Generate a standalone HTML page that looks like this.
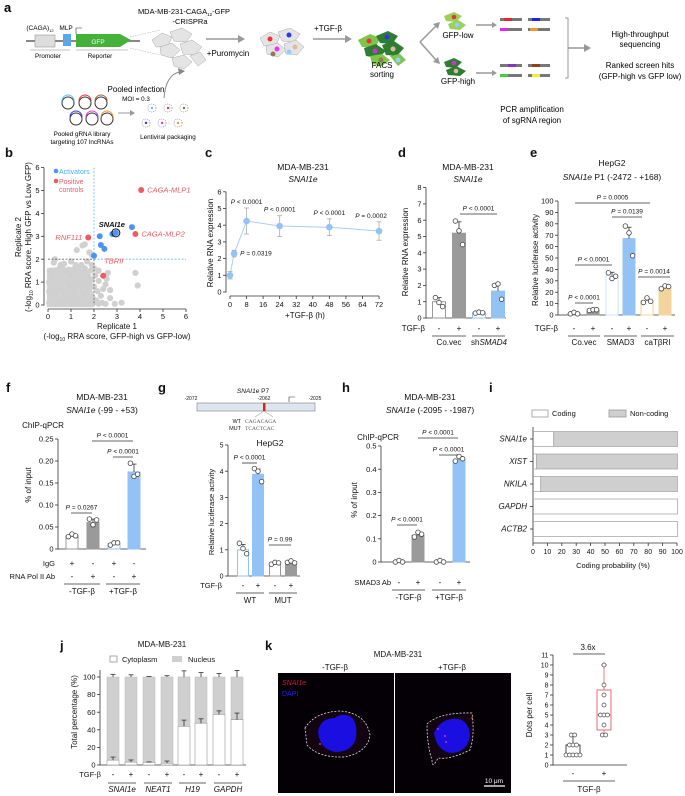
<!DOCTYPE html>
<html><head><meta charset="utf-8"><style>
html,body{margin:0;padding:0;background:#fff;}
svg{display:block;font-family:"Liberation Sans",sans-serif;}
</style></head><body>
<svg id="fig" width="685" height="796" viewBox="0 0 685 796" xmlns="http://www.w3.org/2000/svg">
<g id="panel-a" font-size="7" text-anchor="middle">
 <text x="4" y="12" font-size="13" font-weight="bold" text-anchor="start">a</text>
 <text x="184" y="14" font-size="7.5">MDA-MB-231-CAGA<tspan font-size="4.5" dy="2">12</tspan><tspan dy="-2">-GFP</tspan></text>
 <text x="190" y="24" font-size="7.5">-CRISPRa</text>
 <line x1="26" y1="41" x2="140" y2="41" stroke="#888" stroke-width="2"/>
 <rect x="35" y="35" width="20" height="12" fill="#ddd" stroke="#999" stroke-width="0.6"/>
 <rect x="63" y="34" width="8" height="12" fill="#5aa8e8"/>
 <polygon points="76,34 120,34 131,40 120,47 76,47" fill="#45b03a"/>
 <text x="98" y="44" fill="#fff" font-size="6.5">GFP</text>
 <text x="40" y="30" font-size="6.5">(CAGA)<tspan font-size="4" dy="2">12</tspan></text>
 <text x="66" y="30" font-size="6.5">MLP</text>
 <path d="M76,34 v-6 h6" stroke="#333" fill="none" stroke-width="0.6"/>
 <line x1="30" y1="50" x2="70" y2="50" stroke="#888" stroke-width="0.6"/>
 <line x1="76" y1="50" x2="128" y2="50" stroke="#888" stroke-width="0.6"/>
 <text x="48" y="58" font-size="6.3">Promoter</text>
 <text x="100" y="58" font-size="6.3">Reporter</text>
 <line x1="130" y1="37" x2="160" y2="30" stroke="#aaa" stroke-width="0.5" stroke-dasharray="1.5,1"/>
 <line x1="130" y1="48" x2="160" y2="55" stroke="#aaa" stroke-width="0.5" stroke-dasharray="1.5,1"/>
 <g fill="#e4e4e4" stroke="#aaa" stroke-width="0.5">
  <polygon points="152,40 162,33 172,37 168,46 156,47"/><polygon points="170,32 182,28 192,34 186,42 174,41"/>
  <polygon points="160,47 172,43 180,50 172,58 161,55"/><polygon points="180,44 192,40 202,47 195,55 183,54"/>
  <polygon points="172,58 184,55 192,62 184,69 174,66"/><polygon points="190,56 200,52 206,60 198,66"/>
 </g>
 <line x1="206" y1="39" x2="238" y2="39" stroke="#999" stroke-width="1.5"/><polygon points="238,35 245,39 238,43" fill="#999"/>
 <text x="228" y="56" font-size="8">+Puromycin</text>
 <g stroke="#aaa" stroke-width="0.5" fill="#e4e4e4">
  <polygon points="260,38 270,32 280,36 276,45 264,46"/><polygon points="278,32 290,28 300,34 294,42 282,41"/>
  <polygon points="266,46 278,43 286,50 278,57 267,54"/><polygon points="284,44 296,40 304,47 297,55 286,54"/>
  <circle cx="270" cy="39" r="2.5" fill="#e33" stroke="none"/><circle cx="289" cy="35" r="2.5" fill="#33e" stroke="none"/>
  <circle cx="277" cy="49" r="2.5" fill="#e3e" stroke="none"/><circle cx="295" cy="47" r="2.5" fill="#db9" stroke="none"/>
  <circle cx="289" cy="52" r="2.5" fill="#9cf" stroke="none"/><circle cx="273" cy="54" r="2.5" fill="#975" stroke="none"/>
 </g>
 <line x1="313" y1="39" x2="345" y2="39" stroke="#999" stroke-width="1.5"/><polygon points="345,35 352,39 345,43" fill="#999"/>
 <text x="328" y="31" font-size="8">+TGF-β</text>
 <g>
  <polygon points="358,40 370,34 380,38 376,47 362,47" fill="#7ec64a"/><polygon points="376,36 388,31 398,36 392,44 380,43" fill="#2e7d32"/>
  <polygon points="364,48 376,44 386,51 378,58 366,56" fill="#2e7d32"/><polygon points="382,45 394,41 404,48 397,56 386,55" fill="#2e7d32"/>
  <polygon points="370,56 382,54 390,60 382,66 372,64" fill="#7ec64a"/><polygon points="390,56 400,54 406,60 398,66" fill="#7ec64a"/>
  <circle cx="369" cy="41" r="2.5" fill="#e33"/><circle cx="387" cy="37" r="2.5" fill="#33e"/><circle cx="375" cy="51" r="2.5" fill="#c3c"/>
  <circle cx="393" cy="49" r="2.5" fill="#db9"/><circle cx="381" cy="60" r="2.5" fill="#975"/><circle cx="398" cy="60" r="2.5" fill="#9cf"/>
 </g>
 <text x="382" y="68" font-size="8">FACS</text>
 <text x="382" y="77" font-size="8">sorting</text>
 <path d="M420,42 L436,26 M420,42 L436,60" stroke="#999" stroke-width="1.5" fill="none"/>
 <polygon points="433,24 440,22 438,29" fill="#999"/><polygon points="433,62 440,64 438,57" fill="#999"/>
 <g>
  <polygon points="444,16 454,12 462,16 456,22 446,21" fill="#9bd05a"/><polygon points="448,24 458,20 466,25 460,30 450,29" fill="#9bd05a"/>
  <circle cx="454" cy="17" r="2.3" fill="#e33"/><circle cx="457" cy="25" r="2.3" fill="#9cf"/>
 </g>
 <text x="458" y="38" font-size="8">GFP-low</text>
 <g>
  <polygon points="444,62 454,58 462,62 456,68 446,67" fill="#2e7d32"/><polygon points="446,70 456,66 466,71 460,76 448,75" fill="#2e7d32"/>
  <circle cx="454" cy="63" r="2.3" fill="#c3c"/><circle cx="456" cy="71" r="2.3" fill="#db9"/>
 </g>
 <text x="458" y="84" font-size="8">GFP-high</text>
 <line x1="476" y1="25" x2="492" y2="25" stroke="#999" stroke-width="1.5"/><polygon points="492,22 497,25 492,28" fill="#999"/>
 <line x1="476" y1="73" x2="492" y2="73" stroke="#999" stroke-width="1.5"/><polygon points="492,70 497,73 492,76" fill="#999"/>
 <g>
  <rect x="500" y="18" width="22" height="3" fill="#777"/><rect x="504" y="18" width="8" height="3" fill="#e22"/>
  <rect x="528" y="18" width="22" height="3" fill="#777"/><rect x="532" y="18" width="8" height="3" fill="#22e"/>
  <rect x="500" y="28" width="22" height="3" fill="#777"/><rect x="500" y="28" width="8" height="3" fill="#e2e"/>
  <rect x="528" y="28" width="22" height="3" fill="#777"/><rect x="530" y="28" width="8" height="3" fill="#e93"/>
  <rect x="500" y="64" width="22" height="3" fill="#777"/><rect x="508" y="64" width="8" height="3" fill="#83b"/>
  <rect x="528" y="64" width="22" height="3" fill="#777"/><rect x="532" y="64" width="8" height="3" fill="#841"/>
  <rect x="500" y="74" width="22" height="3" fill="#777"/><rect x="500" y="74" width="8" height="3" fill="#4c4"/>
  <rect x="528" y="74" width="22" height="3" fill="#777"/><rect x="532" y="74" width="8" height="3" fill="#ee3"/>
 </g>
 <text x="532" y="112" font-size="8">PCR amplification</text>
 <text x="532" y="123" font-size="8">of sgRNA region</text>
 <path d="M565,18 h3 v60 h-3" stroke="#999" fill="none" stroke-width="1"/>
 <line x1="568" y1="48" x2="584" y2="48" stroke="#999" stroke-width="1.5"/><polygon points="584,44 591,48 584,52" fill="#999"/>
 <text x="640" y="37" font-size="8">High-throughput</text>
 <text x="640" y="47" font-size="8">sequencing</text>
 <text x="640" y="68" font-size="8">Ranked screen hits</text>
 <text x="640" y="79" font-size="8">(GFP-high vs GFP low)</text>
 <g fill="none" stroke-width="1">
  <circle cx="68" cy="103" r="6" stroke="#333"/><path d="M62,101 a6,6 0 0 1 12,0" stroke="#5bc0f0"/>
  <circle cx="85" cy="103" r="6" stroke="#333"/><path d="M79,101 a6,6 0 0 1 12,0" stroke="#e33"/>
  <circle cx="101" cy="103" r="6" stroke="#333"/><path d="M95,101 a6,6 0 0 1 12,0" stroke="#964"/>
  <circle cx="76" cy="119" r="6" stroke="#333"/><path d="M70,117 a6,6 0 0 1 12,0" stroke="#33e"/>
  <circle cx="92" cy="119" r="6" stroke="#333"/><path d="M86,117 a6,6 0 0 1 12,0" stroke="#e3e"/>
  <circle cx="107" cy="119" r="6" stroke="#333"/><path d="M101,117 a6,6 0 0 1 12,0" stroke="#e93"/>
 </g>
 <text x="82" y="136" font-size="6.3">Pooled gRNA library</text>
 <text x="82" y="144" font-size="6.3">targeting 107 lncRNAs</text>
 <line x1="118" y1="113" x2="130" y2="113" stroke="#999" stroke-width="1"/><polygon points="130,110 135,113 130,116" fill="#999"/>
 <text x="136" y="92" font-size="8">Pooled infection</text>
 <text x="136" y="101" font-size="6.3">MOI = 0.3</text>
 <path d="M164,98 Q166,74 180,72" stroke="#888" fill="none" stroke-width="1"/><polygon points="178,68 185,71 179,75" fill="#888"/>
 <g fill="#fff" stroke="#777" stroke-width="0.6" stroke-dasharray="1,1">
  <circle cx="152" cy="108" r="4"/><circle cx="168" cy="108" r="4"/><circle cx="184" cy="108" r="4"/>
  <circle cx="146" cy="123" r="4"/><circle cx="162" cy="123" r="4"/><circle cx="178" cy="123" r="4"/>
 </g>
 <circle cx="152" cy="108" r="1.2" fill="#5bc0f0"/><circle cx="168" cy="108" r="1.2" fill="#e33"/><circle cx="184" cy="108" r="1.2" fill="#964"/>
 <circle cx="146" cy="123" r="1.2" fill="#33e"/><circle cx="162" cy="123" r="1.2" fill="#e3e"/><circle cx="178" cy="123" r="1.2" fill="#e93"/>
 <text x="168" y="139" font-size="6.3">Lentiviral packaging</text>
</g>
<g id="panel-k-img">
 <rect x="278" y="673" width="116" height="120" fill="#050005"/>
 <rect x="395" y="673" width="116" height="120" fill="#050005"/>
 <path d="M305,728 Q315,712 340,711 Q366,713 370,735 Q368,752 345,757 Q318,758 307,745 Z" fill="#120410" stroke="#ddd" stroke-width="0.8" stroke-dasharray="2,1.5"/>
 <path d="M318,732 Q320,718 335,718 Q340,713 350,716 Q358,722 356,738 Q352,752 336,752 Q320,750 318,732 Z" fill="#1a0fe0"/>
 <path d="M427,724 Q440,712 472,713 Q475,735 470,750 Q450,760 438,758 Q432,770 432,760 Q427,745 427,724 Z" fill="#120410" stroke="#ddd" stroke-width="0.8" stroke-dasharray="2,1.5"/>
 <path d="M434,733 Q440,720 452,719 Q468,717 470,735 Q468,752 452,753 Q437,752 434,733 Z" fill="#1a0fe0"/>
 <circle cx="320" cy="744" r="0.9" fill="#f3c"/><circle cx="438" cy="729" r="0.9" fill="#f3c"/><circle cx="445" cy="736" r="0.9" fill="#f3c"/><circle cx="446" cy="742" r="0.9" fill="#f3c"/><circle cx="472" cy="718" r="0.9" fill="#f33"/>
 <text x="282" y="685" font-size="7" fill="#e0103a" font-style="italic">SNAI1e</text>
 <text x="282" y="696" font-size="7" fill="#2020f0">DAPI</text>
 <line x1="484" y1="786" x2="505" y2="786" stroke="#fff" stroke-width="1.2"/>
 <text x="494" y="783" font-size="6.5" fill="#fff" text-anchor="middle">10 μm</text>
</g>
<g id="charts"></g>
</svg>
<script>
// ---------- data ----------
const bGray = [[0.05,0.1],[0.1,0.4],[0.15,0.8],[0.2,1.2],[0.1,1.5],[0.3,0.05],[0.35,0.5],[0.4,0.9],[0.45,1.3],[0.5,1.6],[0.55,0.2],[0.6,0.7],[0.65,1.1],[0.7,0.3],[0.75,1.45],[0.8,0.6],[0.85,1.0],[0.9,0.15],[0.95,1.3],[1.0,0.45],[1.05,0.85],[1.1,1.55],[1.15,0.1],[1.2,0.65],[1.25,1.15],[1.3,0.35],[1.35,0.95],[1.4,1.4],[1.45,0.05],[1.5,0.55],[1.55,1.0],[1.6,1.6],[1.65,0.25],[1.7,0.8],[1.75,1.25],[1.8,0.05],[1.85,0.5],[1.9,1.1],[1.95,0.3],[2.0,0.8],[2.05,1.3],[2.1,0.2],[2.15,0.6],[2.2,1.05],[2.3,0.4],[2.35,0.1],[2.5,0.9],[2.6,1.4],[2.7,0.3],[2.5,0.05],[2.9,0.05],[3.2,0.1],[3.8,1.4],[3.9,0.85],[2.55,1.15],[1.5,2.6],[1.6,2.65],[1.25,2.4],[1.8,2.3],[1.9,2.2],[0.7,1.8],[0.3,2.0],[0.25,1.85],[1.0,1.9],[1.7,1.9],[0.05,0.6],[0.2,0.3],[0.3,1.0],[0.45,0.65],[0.6,0.05],[0.5,1.05],[0.8,0.25],[0.9,1.55],[1.0,0.05],[1.1,1.1],[1.2,0.25],[1.3,1.6],[1.4,0.8],[0.15,1.35],[0.4,1.5],[0.7,0.55],[0.95,0.75],[1.15,0.5],[1.35,0.15],[1.55,0.35],[1.75,0.6],[1.85,1.5],[0.05,1.0],[0.6,1.35],[0.85,0.4],[1.05,1.4],[1.45,1.2],[1.65,1.4],[1.95,0.05],[2.2,0.05],[0.35,0.25],[0.55,0.9],[0.75,0.05],[1.25,0.85],[1.6,0.05],[0.25,0.6],[0.65,1.55],[1.05,0.3],[1.5,0.85],[1.8,0.95],[0.1,0.05],[0.4,0.15],[0.9,0.9],[1.3,1.3],[1.7,0.15],[1.2,1.75],[1.45,1.75],[0.55,1.75],[2.4,0.7],[2.7,0.65],[2.0,1.6],[2.2,1.5],[1.9,1.75]];
const bBlueX = [2.25,2.3,2.45,2.0,2.8,2.95,3.65];
const bBlueY = [3.0,2.62,2.45,2.15,3.1,3.15,3.4];
const bRedX = [4.05,3.8,1.75,2.4];
const bRedY = [5.02,3.1,2.95,1.28];
const bRedLabels = ['CAGA-MLP1','CAGA-MLP2','RNF111','TBRII'];

const cTimes = [0,2,8,24,48,72];
const cMeans = [1.0,2.3,4.25,3.95,3.88,3.65];
const cErrs = [0.22,0.2,0.78,0.62,0.5,0.55];
const cPLabels = ['','P = 0.0319','P < 0.0001','P < 0.0001','P < 0.0001','P = 0.0002'];

const dVals = [1.0,5.2,0.32,1.65];
const dErrs = [0.25,0.7,0.05,0.5];
const dDots = [[1.25,0.95,0.7],[5.95,5.35,4.5],[0.3,0.36,0.32],[2.0,2.0,1.15]];

const eVals = [1.2,4.2,34.5,67,12.5,24.5];
const eErrs = [0.5,0.6,3,10,2,1.5];
const eDots = [[1,1,1],[4,4.6,4.6],[37,32,34],[78,72,52],[11,15,12],[23,25.5,25]];

const fVals = [0.03,0.06,0.012,0.175];
const fErrs = [0.003,0.008,0.003,0.018];
const fDots = [[0.028,0.034,0.03],[0.068,0.055,0.066],[0.009,0.014,0.014],[0.195,0.165,0.17]];

const gVals = [1.0,3.88,0.48,0.52];
const gErrs = [0.2,0.2,0.05,0.03];
const gDots = [[1.25,1.05,0.85],[4.1,4.0,3.6],[0.45,0.52,0.5],[0.52,0.52,0.5]];

const hVals = [0.0,0.115,0.0,0.44];
const hErrs = [0,0.01,0,0.01];
const hDots = [[0,0,0],[0.108,0.128,0.12],[0,0,0],[0.435,0.455,0.445]];

const iGenes = ['SNAI1e','XIST','NKILA','GAPDH','ACTB2'];
const iCoding = [14,2,5,100,100];

const jGenes = ['SNAI1e','NEAT1','H19','GAPDH'];
const jCyto = [5.5,3.2,3.0,2.0,44,47.5,57.5,51.5];
const jCytoErr = [3.5,2.5,0.5,2.5,7,5,4,7.5];
const jTotErr = [3,2.5,0.6,1.5,7,5,4,7.5];

const kMinus = [1,1,1,1,1,2,2,2,3,3];
const kPlus = [3,3,4,5,5,5,6,7,8,10];
const kBoxMinus = [1,1,1.1,2,3];
const kBoxPlus = [3,3.5,5,7.5,10];

// ---------- helpers ----------
const NS='http://www.w3.org/2000/svg';
const root=document.getElementById('charts');
function el(tag,attrs,name){
  const e=document.createElementNS(NS,tag);
  for(const k in attrs)e.setAttribute(k,attrs[k]);
  
  
  root.appendChild(e);return e;
}
function tx(x,y,s,name,o){
  const t=el('text',Object.assign({x:x,y:y,'font-size':8,'text-anchor':'middle',fill:'#111'},o||{}),name);
  t.innerHTML=s;return t;
}
function ln(x1,y1,x2,y2,name,o){return el('line',Object.assign({x1,y1,x2,y2,stroke:'#333','stroke-width':0.8},o||{}),name);}
function yAxis(x,ticks,sc,labels,name,fs){
  ln(x,sc(ticks[0])+0.5,x,sc(ticks[ticks.length-1]),name+'-line');
  ticks.forEach((t,i)=>{ln(x-3,sc(t),x,sc(t),name+'-tick');
    tx(x-4.5,sc(t)+2.6,labels[i],name+'-tick-label',{'text-anchor':'end','font-size':fs||7.5});});
}
function letter(x,y,s){tx(x,y,s,'panel-'+s+'-label',{'font-size':13,'font-weight':'bold','text-anchor':'start'});}
function ylab(x,y,s,name,fs){tx(x,y,s,name,{transform:'rotate(-90 '+x+' '+y+')','font-size':fs||8});}
function pline(x1,x2,y,label,name){ln(x1,y,x2,y,name+'-line');tx((x1+x2)/2,y-3.5,label,name+'-label',{'font-size':6.5});}
function barSet(prefix,xs,vals,errs,dots,sc,w,fills,strokes){
  xs.forEach((cx,i)=>{
    const top=sc(vals[i]),base=sc(0);
    el('rect',{x:cx-w/2,y:top,width:w,height:Math.max(base-top,0.3),fill:fills[i],stroke:strokes[i],'stroke-width':1},prefix+'-bar');
    if(errs[i]>0){const ey=sc(vals[i]+errs[i]);
      ln(cx,top,cx,ey,prefix+'-error-bar');ln(cx-2.5,ey,cx+2.5,ey,prefix+'-error-cap');}
    dots[i].forEach((v,j)=>{
      el('circle',{cx:cx+(j-1)*3.6,cy:sc(v)-(j===1&&dots[i][0]===v?1.5:0),r:2.3,fill:'#fff',stroke:'#444','stroke-width':0.8},prefix+'-dot');
    });
  });
}
const B='#93c3f5',G='#9a9a9a';

// ---------- panel b ----------
letter(5,157,'b');
const bx=v=>48+v*23, by=v=>305-v*22.9;
el('path',{d:'M'+bx(-0.05)+','+by(-0.1)+' L'+bx(1.95)+','+by(-0.1)+' L'+bx(1.9)+','+by(1.2)+' L'+bx(1.5)+','+by(1.6)+' L'+bx(0.3)+','+by(1.65)+' L'+bx(-0.05)+','+by(1.6)+' Z',fill:'#d3d3d3'},'b-dense-cloud');
bGray.forEach(p=>{el('circle',{cx:bx(p[0]),cy:by(p[1]),r:3.1,fill:'#d0d0d0'},'b-background-point');});
ln(bx(2),by(6),bx(2),by(2),'b-x-threshold-blue',{stroke:'#6bbbe8','stroke-dasharray':'2,1.5'});
ln(bx(2),by(2),bx(2),by(0),'b-x-threshold-dark',{stroke:'#666','stroke-dasharray':'2,1.5'});
ln(bx(0),by(2),bx(2),by(2),'b-y-threshold-dark',{stroke:'#666','stroke-dasharray':'2,1.5'});
ln(bx(2),by(2),bx(6),by(2),'b-y-threshold-blue',{stroke:'#6bbbe8','stroke-dasharray':'2,1.5'});
bBlueX.forEach((x,i)=>{el('circle',{cx:bx(x),cy:by(bBlueY[i]),r:3,fill:'#4d94f0'},'b-activator-point');});
el('circle',{cx:bx(bBlueX[5]),cy:by(bBlueY[5]),r:4,fill:'none',stroke:'#111','stroke-width':1},'b-snai1e-highlight');
tx(bx(bBlueX[5])-4,by(bBlueY[5])-6,'<tspan font-style="italic" font-weight="bold">SNAI1e</tspan>','b-snai1e-label',{'font-size':7.5});
bRedX.forEach((x,i)=>{el('circle',{cx:bx(x),cy:by(bRedY[i]),r:3,fill:'#ef5a63'},'b-control-point');});
tx(bx(bRedX[0])+6,by(bRedY[0])+2.5,'<tspan font-style="italic">'+bRedLabels[0]+'</tspan>','b-control-label',{'text-anchor':'start',fill:'#ef5a63','font-size':7.5});
tx(bx(bRedX[1])+6,by(bRedY[1])+2.5,'<tspan font-style="italic">'+bRedLabels[1]+'</tspan>','b-control-label',{'text-anchor':'start',fill:'#ef5a63','font-size':7.5});
tx(bx(bRedX[2])-6,by(bRedY[2])+2.5,'<tspan font-style="italic">'+bRedLabels[2]+'</tspan>','b-control-label',{'text-anchor':'end',fill:'#ef5a63','font-size':7.5});
tx(bx(bRedX[3])+1,by(bRedY[3])-12,'<tspan font-style="italic">'+bRedLabels[3]+'</tspan>','b-control-label',{'text-anchor':'start',fill:'#ef5a63','font-size':7.5});
el('circle',{cx:56,cy:171,r:2.3,fill:'#4d94f0'},'b-legend-activators-marker');
tx(59,174,'Activators','b-legend-activators',{'text-anchor':'start',fill:'#4db0e8','font-size':7});
el('circle',{cx:56,cy:181,r:2.3,fill:'#ef5a63'},'b-legend-controls-marker');
tx(59,184,'Positive','b-legend-controls',{'text-anchor':'start',fill:'#ef5a63','font-size':7});
tx(59,192,'controls','b-legend-controls-2',{'text-anchor':'start',fill:'#ef5a63','font-size':7});
yAxis(44,[0,1,2,3,4,5,6],by,['0','1','2','3','4','5','6'],'b-y-axis');
ln(bx(0),309,bx(6),309,'b-x-axis-line');
[0,1,2,3,4,5,6].forEach(t=>{ln(bx(t),309,bx(t),312,'b-x-tick');tx(bx(t),319,String(t),'b-x-tick-label',{'font-size':7.5});});
tx(117,329,'Replicate 1','b-x-axis-title');
tx(117,339,'(-log<tspan font-size="5" dy="2">10</tspan><tspan dy="-2"> RRA score, GFP-high vs GFP-low)</tspan>','b-x-axis-subtitle');
ylab(21,237,'Replicate 2','b-y-axis-title');
ylab(31,237,'(-log<tspan font-size="5" dy="2">10</tspan><tspan dy="-2"> RRA score, High GFP vs Low GFP)</tspan>','b-y-axis-subtitle');

// ---------- panel c ----------
letter(205,157,'c');
const cx_=h=>230+h*2.07, cy_=v=>292-v*16.7;
tx(303,170,'MDA-MB-231','c-title',{'font-size':8.5});
tx(303,182,'<tspan font-style="italic">SNAI1e</tspan>','c-subtitle',{'font-size':8.5});
yAxis(226,[0,1,2,3,4,5,6],cy_,['0','1','2','3','4','5','6'],'c-y-axis');
ln(cx_(0),296,cx_(72),296,'c-x-axis-line');
[0,8,16,24,32,40,48,56,64,72].forEach(t=>{ln(cx_(t),296,cx_(t),299,'c-x-tick');tx(cx_(t),307,String(t),'c-x-tick-label',{'font-size':7.5});});
tx(305,318,'+TGF-β (h)','c-x-axis-title');
ylab(213,243,'Relative RNA expression','c-y-axis-title');
el('polyline',{points:cTimes.map((t,i)=>cx_(t)+','+cy_(cMeans[i])).join(' '),fill:'none',stroke:'#a9cdf7','stroke-width':1},'c-line');
cTimes.forEach((t,i)=>{
  ln(cx_(t),cy_(cMeans[i]-cErrs[i]),cx_(t),cy_(cMeans[i]+cErrs[i]),'c-error-bar',{stroke:'#aaa'});
  ln(cx_(t)-2.5,cy_(cMeans[i]+cErrs[i]),cx_(t)+2.5,cy_(cMeans[i]+cErrs[i]),'c-error-cap',{stroke:'#aaa'});
  ln(cx_(t)-2.5,cy_(cMeans[i]-cErrs[i]),cx_(t)+2.5,cy_(cMeans[i]-cErrs[i]),'c-error-cap',{stroke:'#aaa'});
  el('circle',{cx:cx_(t),cy:cy_(cMeans[i]),r:3.3,fill:'#93c3f5'},'c-point');
});
tx(cx_(2)+6,cy_(cMeans[1])+2,'<tspan font-style="italic">P</tspan>'+cPLabels[1].slice(1),'c-p-value',{'text-anchor':'start','font-size':6.5});
tx(cx_(8),cy_(cMeans[2]+cErrs[2])-4,'<tspan font-style="italic">P</tspan>'+cPLabels[2].slice(1),'c-p-value',{'font-size':6.5});
tx(cx_(24),cy_(cMeans[3]+cErrs[3])-4,'<tspan font-style="italic">P</tspan>'+cPLabels[3].slice(1),'c-p-value',{'font-size':6.5});
tx(cx_(48),cy_(cMeans[4]+cErrs[4])-4,'<tspan font-style="italic">P</tspan>'+cPLabels[4].slice(1),'c-p-value',{'font-size':6.5});
tx(cx_(72)-8,cy_(cMeans[5]+cErrs[5])-4,'<tspan font-style="italic">P</tspan>'+cPLabels[5].slice(1),'c-p-value',{'font-size':6.5});

// ---------- panel d ----------
letter(398,157,'d');
const dy_=v=>318-v*16.3;
tx(468,170,'MDA-MB-231','d-title',{'font-size':8.5});
tx(468,182,'<tspan font-style="italic">SNAI1e</tspan>','d-subtitle',{'font-size':8.5});
yAxis(426,[0,1,2,3,4,5,6,7,8],dy_,['0','1','2','3','4','5','6','7','8'],'d-y-axis');
ln(426,318,506,318,'d-x-axis-line');
const dXs=[439,459,479,498];
barSet('d',dXs,dVals,dErrs,dDots,dy_,13,['#fff',G,'#fff',B],['#999',G,B,B]);
pline(460,497,214,'<tspan font-style="italic">P</tspan> &lt; 0.0001','d-p');
ylab(408,252,'Relative RNA expression','d-y-axis-title');
tx(425,331,'TGF-β','d-tgfb-label',{'text-anchor':'end'});
['-','+','-','+'].forEach((s,i)=>tx(dXs[i],331,s,'d-tgfb-sign'));
ln(432,336,466,336,'d-group-line',{stroke:'#999','stroke-width':1.5});ln(472,336,505,336,'d-group-line',{stroke:'#999','stroke-width':1.5});
tx(449,345,'Co.vec','d-group-label');tx(489,345,'sh<tspan font-style="italic">SMAD4</tspan>','d-group-label');

// ---------- panel e ----------
letter(530,157,'e');
const ey_=v=>315-v*1.14;
tx(612,166,'HepG2','e-title',{'font-size':8.5});
tx(612,180,'<tspan font-style="italic">SNAI1e</tspan> P1 (-2472 - +168)','e-subtitle',{'font-size':8.5});
yAxis(558,[0,10,20,30,40,50,60,70,80,90,100],ey_,['0','10','20','30','40','50','60','70','80','90','100'],'e-y-axis');
ln(558,315,675,315,'e-x-axis-line');
const eXs=[574,593,612,629,647,665];
barSet('e',eXs,eVals,eErrs,eDots,ey_,12,['#fff',G,'#fff',B,'#fff','#f3d49c'],['#999',G,'#cfe3fb',B,'#f3d49c','#f3d49c']);
pline(575,650,203,'<tspan font-style="italic">P</tspan> = 0.0005','e-p1');
pline(612,642,217,'<tspan font-style="italic">P</tspan> = 0.0139','e-p2');
pline(575,612,265,'<tspan font-style="italic">P</tspan> &lt; 0.0001','e-p3');
pline(575,593,303,'<tspan font-style="italic">P</tspan> &lt; 0.0001','e-p4');
pline(638,670,277,'<tspan font-style="italic">P</tspan> = 0.0014','e-p5');
ylab(538,260,'Relative luciferase activity','e-y-axis-title');
tx(558,331,'TGF-β','e-tgfb-label',{'text-anchor':'end'});
['-','+','-','+','-','+'].forEach((s,i)=>tx(eXs[i],331,s,'e-tgfb-sign'));
[[568,600,'Co.vec'],[604,637,'SMAD3'],[641,674,'caTβRI']].forEach(g=>{ln(g[0],336,g[1],336,'e-group-line',{stroke:'#999','stroke-width':1.5});tx((g[0]+g[1])/2,345,g[2],'e-group-label');});

// ---------- panel f ----------
letter(6,392,'f');
const fy_=v=>549-v*440;
tx(102,400,'MDA-MB-231','f-title',{'font-size':8.5});
tx(102,413,'<tspan font-style="italic">SNAI1e</tspan> (-99 - +53)','f-subtitle',{'font-size':8.5});
tx(43,428,'ChIP-qPCR','f-assay-label');
yAxis(58,[0,0.05,0.1,0.15,0.2,0.25],fy_,['0','0.05','0.10','0.15','0.20','0.25'],'f-y-axis');
ln(58,549,146,549,'f-x-axis-line');
const fXs=[72,93,114,134];
barSet('f',fXs,fVals,fErrs,fDots,fy_,12,['#fff',G,'#fff',B],['#999',G,B,B]);
pline(92,133,441,'<tspan font-style="italic">P</tspan> &lt; 0.0001','f-p1');
pline(113,133,457,'<tspan font-style="italic">P</tspan> &lt; 0.0001','f-p2');
pline(71,92,513,'<tspan font-style="italic">P</tspan> = 0.0267','f-p3');
ylab(31,485,'% of input','f-y-axis-title');
tx(55,566,'IgG','f-igg-label',{'text-anchor':'end','font-size':7.5});
tx(55,579,'RNA Pol II Ab','f-rnapol-label',{'text-anchor':'end','font-size':7.5});
['+','-','+','-'].forEach((s,i)=>tx(fXs[i],566,s,'f-igg-sign'));
['-','+','-','+'].forEach((s,i)=>tx(fXs[i],579,s,'f-rnapol-sign'));
[[64,100,'-TGF-β'],[106,140,'+TGF-β']].forEach(g=>{ln(g[0],584,g[1],584,'f-group-line',{stroke:'#999','stroke-width':1.5});tx((g[0]+g[1])/2,594,g[2],'f-group-label');});

// ---------- panel g ----------
letter(158,392,'g');
tx(253,393,'<tspan font-style="italic">SNAI1e</tspan> P7','g-gene-title',{'font-size':6.5});
el('rect',{x:197,y:403,width:118,height:8,fill:'#dde6ef',stroke:'#666','stroke-width':0.5},'g-promoter-bar');
el('rect',{x:263,y:403,width:2.5,height:8,fill:'#e02020'},'g-smad-site');
tx(191,400,'-2072','g-coord-start',{'font-size':5});tx(264,400,'-2062','g-coord-site',{'font-size':5});tx(315,400,'-2025','g-coord-end',{'font-size':5});
el('path',{d:'M289,402 v-5 h6',stroke:'#333',fill:'none','stroke-width':0.6},'g-tss-arrow');
el('path',{d:'M255,417 L264,411 L273,417',stroke:'#888',fill:'none','stroke-width':0.5},'g-zoom-lines');
tx(241,423,'WT','g-wt-seq-label',{'text-anchor':'end','font-size':5.5});
tx(241,430,'MUT','g-mut-seq-label',{'text-anchor':'end','font-size':5.5});
tx(245,423,'CAGACAGA','g-wt-sequence',{'text-anchor':'start','font-size':5.5,'font-family':'Liberation Serif, serif',fill:'#555'});
tx(245,430,'TCACTCAC','g-mut-sequence',{'text-anchor':'start','font-size':5.5,'font-family':'Liberation Serif, serif',fill:'#555'});
tx(270,446,'HepG2','g-title',{'font-size':8.5});
const gy_=v=>576-v*26.2;
yAxis(228,[0,1,2,3,4,5],gy_,['0','1','2','3','4','5'],'g-y-axis',7);
ln(228,576,300,576,'g-x-axis-line');
const gXs=[243,258,275,291];
barSet('g',gXs,gVals,gErrs,gDots,gy_,11,['#fff',B,'#fff',G],[B,B,'#999',G]);
pline(242,257,463,'<tspan font-style="italic">P</tspan> &lt; 0.0001','g-p1');
pline(269,291,545,'<tspan font-style="italic">P</tspan> = 0.99','g-p2');
ylab(214,512,'Relative luciferase activity','g-y-axis-title',7.5);
tx(222,588,'TGF-β','g-tgfb-label',{'text-anchor':'end','font-size':7.5});
['-','+','-','+'].forEach((s,i)=>tx(gXs[i],588,s,'g-tgfb-sign'));
[[236,264,'WT'],[269,297,'MUT']].forEach(g=>{ln(g[0],593,g[1],593,'g-group-line',{stroke:'#999','stroke-width':1.5});tx((g[0]+g[1])/2,603,g[2],'g-group-label');});

// ---------- panel h ----------
letter(342,392,'h');
tx(430,400,'MDA-MB-231','h-title',{'font-size':8.5});
tx(430,413,'<tspan font-style="italic">SNAI1e</tspan> (-2095 - -1987)','h-subtitle',{'font-size':8.5});
tx(378,440,'ChIP-qPCR','h-assay-label');
const hy_=v=>562-v*232;
yAxis(381,[0,0.1,0.2,0.3,0.4,0.5],hy_,['0','0.1','0.2','0.3','0.4','0.5'],'h-y-axis');
ln(381,562,470,562,'h-x-axis-line');
const hXs=[399,418,440,459];
barSet('h',hXs,hVals,hErrs,hDots,hy_,12,['#fff',G,'#fff',B],['#999',G,B,B]);
pline(418,458,438,'<tspan font-style="italic">P</tspan> &lt; 0.0001','h-p1');
pline(439,458,455,'<tspan font-style="italic">P</tspan> &lt; 0.0001','h-p2');
pline(397,417,525,'<tspan font-style="italic">P</tspan> &lt; 0.0001','h-p3');
ylab(357,500,'% of input','h-y-axis-title');
tx(391,585,'SMAD3 Ab','h-smad3-label',{'text-anchor':'end','font-size':7.5});
['-','+','-','+'].forEach((s,i)=>tx(hXs[i],585,s,'h-smad3-sign'));
[[392,425,'-TGF-β'],[432,466,'+TGF-β']].forEach(g=>{ln(g[0],590,g[1],590,'h-group-line',{stroke:'#999','stroke-width':1.5});tx((g[0]+g[1])/2,600,g[2],'h-group-label');});

// ---------- panel i ----------
letter(489,392,'i');
const ix=v=>533+v*1.44;
const iRows=iGenes.map((g,k)=>439+k*22.5);
el('rect',{x:532,y:410,width:16,height:7,fill:'#fff',stroke:'#999','stroke-width':0.8},'i-legend-coding-swatch');
tx(552,416,'Coding','i-legend-coding',{'text-anchor':'start','font-size':7.5});
el('rect',{x:609,y:410,width:17,height:7,fill:'#cfcfcf',stroke:'#999','stroke-width':0.8},'i-legend-noncoding-swatch');
tx(630,416,'Non-coding','i-legend-noncoding',{'text-anchor':'start','font-size':7.5});
ln(533,427,533,543,'i-y-axis-line');
iGenes.forEach((g,k)=>{
  const y=iRows[k];
  el('rect',{x:ix(0)+0.5,y:y-7.5,width:ix(iCoding[k])-ix(0),height:15,fill:'#fff',stroke:'#aaa','stroke-width':0.8},'i-coding-bar');
  if(iCoding[k]<100) el('rect',{x:ix(iCoding[k])+0.5,y:y-7.5,width:ix(100)-ix(iCoding[k]),height:15,fill:'#cfcfcf',stroke:'#aaa','stroke-width':0.8},'i-noncoding-bar');
  ln(530,y,533,y,'i-y-tick');
  tx(527,y+2.7,'<tspan font-style="italic">'+g+'</tspan>','i-gene-label',{'text-anchor':'end'});
});
ln(533,543,ix(100),543,'i-x-axis-line');
[0,10,20,30,40,50,60,70,80,90,100].forEach(t=>{ln(ix(t),543,ix(t),546,'i-x-tick');tx(ix(t),554,String(t),'i-x-tick-label',{'font-size':7});});
tx(613,568,'Coding probability  (%)','i-x-axis-title',{'font-size':7.5});

// ---------- panel j ----------
letter(60,650,'j');
tx(162,647,'MDA-MB-231','j-title',{'font-size':8});
el('rect',{x:110,y:656,width:7,height:6,fill:'#fff',stroke:'#888','stroke-width':0.7},'j-legend-cytoplasm-swatch');
tx(122,662,'Cytoplasm','j-legend-cytoplasm',{'text-anchor':'start','font-size':7.5});
el('rect',{x:172,y:656,width:10,height:6,fill:'#cfcfcf'},'j-legend-nucleus-swatch');
tx(188,662,'Nucleus','j-legend-nucleus',{'text-anchor':'start','font-size':7.5});
const jy_=v=>765-v*0.88;
yAxis(100,[0,20,40,60,80,100],jy_,['0','20','40','60','80','100'],'j-y-axis');
ln(100,jy_(100),100,670,'j-y-axis-ext');
ln(100,765,246,765,'j-x-axis-line');
const jXs=[113,131,149,167,184,201,219,237];
jXs.forEach((cx,i)=>{
  el('rect',{x:cx-6,y:jy_(100),width:12,height:jy_(jCyto[i])-jy_(100),fill:'#cfcfcf',stroke:'#bbb','stroke-width':0.5},'j-nucleus-bar');
  el('rect',{x:cx-6,y:jy_(jCyto[i]),width:12,height:765-jy_(jCyto[i]),fill:'#fff',stroke:'#999','stroke-width':0.6},'j-cytoplasm-bar');
  ln(cx,jy_(100),cx,jy_(100+jTotErr[i]),'j-total-error');ln(cx-2.5,jy_(100+jTotErr[i]),cx+2.5,jy_(100+jTotErr[i]),'j-total-error-cap');
  ln(cx,jy_(jCyto[i]),cx,jy_(jCyto[i]+jCytoErr[i]),'j-cyto-error');ln(cx-2.5,jy_(jCyto[i]+jCytoErr[i]),cx+2.5,jy_(jCyto[i]+jCytoErr[i]),'j-cyto-error-cap');
  tx(cx,777,i%2?'+':'-','j-tgfb-sign');
});
ylab(77,712,'Total percentage (%)','j-y-axis-title');
tx(101,777,'TGF-β','j-tgfb-label',{'text-anchor':'end','font-size':7.5});
jGenes.forEach((g,k)=>{const a=jXs[2*k]-5,b=jXs[2*k+1]+5;ln(a,783,b,783,'j-group-line',{stroke:'#999','stroke-width':1.5});tx((a+b)/2,792,'<tspan font-style="italic">'+g+'</tspan>','j-group-label');});

// ---------- panel k ----------
letter(265,650,'k');
tx(398,657,'MDA-MB-231','k-title',{'font-size':8});
tx(335,670,'-TGF-β','k-untreated-label',{'font-size':8});
tx(452,670,'+TGF-β','k-treated-label',{'font-size':8});
const ky_=v=>765-v*10;
const kTicks=[0,1,2,3,4,5,6,7,8,9,10,11];
yAxis(553,kTicks,ky_,kTicks.map(String),'k-y-axis',7);
ln(553,765,627,765,'k-x-axis-line');
const kXs=[573,604];
function box(cx,b,col,name){
  ln(cx,ky_(b[0]),cx,ky_(b[4]),name+'-whisker',{stroke:col});
  ln(cx-3,ky_(b[4]),cx+3,ky_(b[4]),name+'-whisker-cap',{stroke:col});
  ln(cx-3,ky_(b[0]),cx+3,ky_(b[0]),name+'-whisker-cap',{stroke:col});
  el('rect',{x:cx-7,y:ky_(b[3]),width:14,height:ky_(b[1])-ky_(b[3]),fill:'#fff',stroke:col,'stroke-width':0.9},name+'-box');
  ln(cx-7,ky_(b[2]),cx+7,ky_(b[2]),name+'-median',{stroke:col});
}
box(kXs[0],kBoxMinus,'#333','k-box-minus');
box(kXs[1],kBoxPlus,'#ef5a63','k-box-plus');
function kdots(cx,vals,name){
  const seen={};
  vals.forEach(v=>{seen[v]=(seen[v]||0)+1;});
  const used={};
  vals.forEach(v=>{const n=seen[v];used[v]=(used[v]||0);const off=(used[v]-(n-1)/2)*3.5;used[v]++;
    el('circle',{cx:cx+off,cy:ky_(v),r:2,fill:'#fff',stroke:'#444','stroke-width':0.7},name);});
}
kdots(kXs[0],kMinus,'k-dot-minus');
kdots(kXs[1],kPlus,'k-dot-plus');
ln(573,654,605,654,'k-fold-line');
tx(588,650,'3.6x','k-fold-label',{'font-size':8});
tx(kXs[0],776,'-','k-tgfb-sign');tx(kXs[1],776,'+','k-tgfb-sign');
ln(563,781,615,781,'k-group-line',{stroke:'#999','stroke-width':1.5});
tx(589,792,'TGF-β','k-tgfb-label');
ylab(532,715,'Dots per cell','k-y-axis-title');
</script>
</body></html>
